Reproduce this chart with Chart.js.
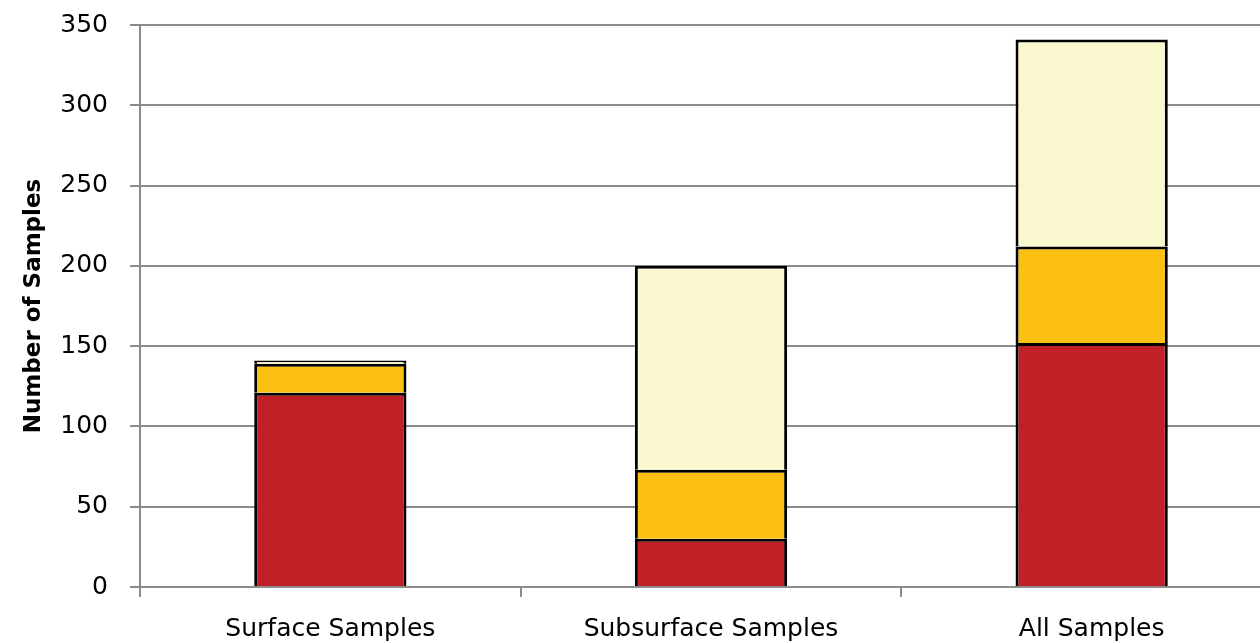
<!DOCTYPE html>
<html>
<head>
<meta charset="utf-8">
<script src="https://cdn.jsdelivr.net/npm/chart.js@4"></script>
<style>
  html, body { margin: 0; padding: 0; background: #fff; overflow: hidden; }
  #wrap { position: relative; top: -12px; width: 1282px; height: 655px; }
</style>
</head>
<body>
<div id="wrap"><canvas id="chart" width="1282" height="655"></canvas></div>
<script>
const categories = ['Surface Samples', 'Subsurface Samples', 'All Samples'];
const redValues = [121, 30, 152];
const orangeValues = [18, 43, 60];
const creamValues = [2, 127, 129];
const yTicks = [0, 50, 100, 150, 200, 250, 300, 350];

const gridGray = '#8c8c8c';
const tickFont = { family: 'DejaVu Sans', size: 25 };

function seg(label, data, color) {
    return {
        label: label,
        data: data,
        backgroundColor: color,
        borderColor: '#000',
        borderWidth: 3,
        barPercentage: 0.4,
        categoryPercentage: 1
    };
}

new Chart(document.getElementById('chart'), {
    type: 'bar',
    data: {
        labels: categories,
        datasets: [
            seg('red', redValues, 'rgb(192,32,38)'),
            seg('orange', orangeValues, 'rgb(252,192,18)'),
            seg('cream', creamValues, 'rgb(250,248,206)')
        ]
    },
    options: {
        responsive: false,
        animation: false,
        layout: { padding: { top: 4, right: 0, left: 0, bottom: 0 } },
        plugins: { legend: { display: false }, tooltip: { enabled: false } },
        scales: {
            x: {
                stacked: true,
                afterFit: (s) => { s.height = 56; },
                grid: { drawOnChartArea: false, drawTicks: true, tickLength: 10, color: gridGray, lineWidth: 2 },
                border: { color: gridGray, width: 2 },
                ticks: { color: '#000', font: tickFont, padding: 17, maxRotation: 0 }
            },
            y: {
                stacked: true,
                min: 0,
                max: 350,
                afterFit: (s) => { s.width = 140; },
                afterBuildTicks: (s) => { s.ticks = yTicks.map(v => ({ value: v })); },
                grid: { color: gridGray, lineWidth: 2, tickLength: 10 },
                border: { color: gridGray, width: 2 },
                ticks: { color: '#000', font: tickFont, padding: 22 },
                title: {
                    display: true,
                    text: 'Number of Samples',
                    color: '#000',
                    font: { family: 'DejaVu Sans', size: 23, weight: 'bold' },
                    padding: { top: 20, bottom: 0 }
                }
            }
        }
    }
});
</script>
</body>
</html>
